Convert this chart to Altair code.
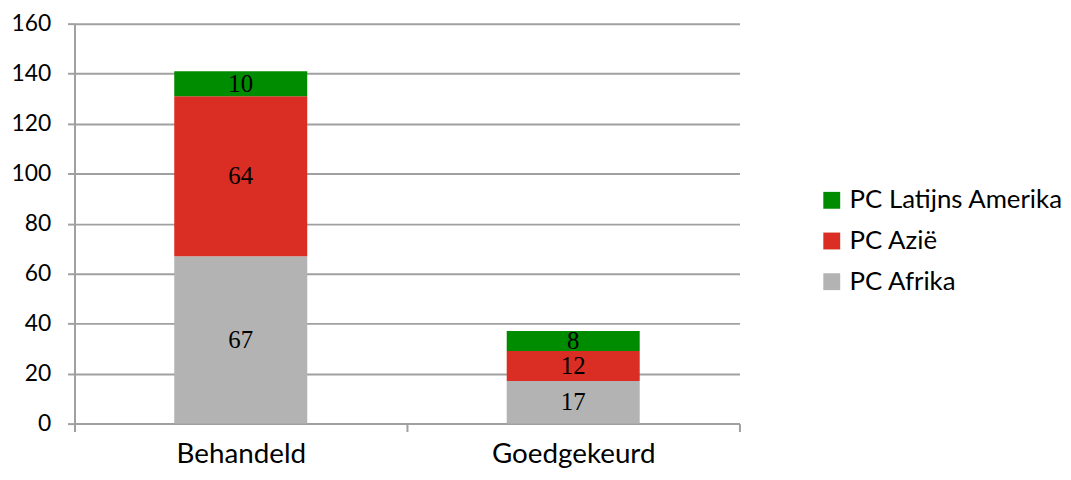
import altair as alt
import pandas as pd

categories = ["Behandeld", "Goedgekeurd"]
series = ["PC Afrika", "PC Azië", "PC Latijns Amerika"]
afrika = [67, 17]
azie = [64, 12]
latam = [10, 8]
colors = ["#B3B3B3", "#DA2D23", "#008C00"]
y_ticks = [0, 20, 40, 60, 80, 100, 120, 140, 160]

rows = []
for i, c in enumerate(categories):
    for k, (s, vals) in enumerate(zip(series, [afrika, azie, latam])):
        rows.append({"cat": c, "series": s, "value": vals[i], "ord": k})
df = pd.DataFrame(rows)

base = alt.Chart(df).transform_stack(
    stack="value", groupby=["cat"], as_=["y0", "y1"], sort=[alt.SortField("ord")]
).transform_calculate(mid="(datum.y0 + datum.y1) / 2")

xenc = alt.X(
    "cat:N",
    sort=categories,
    title=None,
    scale=alt.Scale(paddingInner=0, paddingOuter=0),
    axis=alt.Axis(
        labelAngle=0, labelFont="Lato", labelFontSize=28, labelColor="#000000",
        labelPadding=9, tickBand="extent", tickSize=8, tickColor="#A0A0A0",
        tickWidth=2, domainColor="#A0A0A0", domainWidth=2, grid=False,
    ),
)

bars = base.mark_bar(width=134).encode(
    x=xenc,
    y=alt.Y(
        "y0:Q", title=None,
        scale=alt.Scale(domain=[0, 160], nice=False),
        axis=alt.Axis(
            values=y_ticks, labelFont="Lato", labelFontSize=23, labelColor="#000000",
            labelPadding=17, tickSize=7, tickColor="#A0A0A0", tickWidth=2,
            domainColor="#A0A0A0", domainWidth=2, gridColor="#A0A0A0", gridWidth=2,
        ),
    ),
    y2="y1:Q",
    color=alt.Color(
        "series:N",
        scale=alt.Scale(domain=list(reversed(series)), range=list(reversed(colors))),
        legend=alt.Legend(
            title=None, orient="none", legendX=750, legendY=165,
            symbolType="square", symbolSize=289, symbolStrokeWidth=0,
            labelFont="Lato", labelFontSize=26, labelColor="#000000",
            rowPadding=15, labelOffset=5, labelLimit=400,
        ),
    ),
    order=alt.Order("ord:Q"),
)

text = base.mark_text(font="Liberation Serif", fontSize=25, color="#000000", baseline="middle").encode(
    x=alt.X("cat:N", sort=categories),
    y=alt.Y("mid:Q"),
    text=alt.Text("value:Q"),
)

chart = alt.layer(bars, text).properties(
    width=670, height=403,
    autosize=alt.AutoSizeParams(type="none"),
    padding={"left": 67, "top": 14, "right": 326, "bottom": 49},
).configure_view(stroke=None)

chart.save("out.html", embed_options={"renderer": "svg", "actions": False})
